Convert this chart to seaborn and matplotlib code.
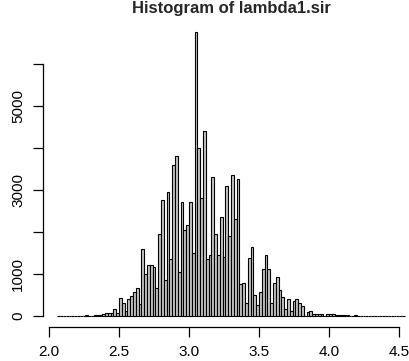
import numpy as np
import pandas as pd
import matplotlib
matplotlib.use("Agg")
import matplotlib.pyplot as plt
import seaborn as sns

title = "Histogram of lambda1.sir"
bin_start = 2.06
bin_width = 0.02
# counts per bin, starting at 2.06 with width 0.02
counts = [
    0, 0, 0, 0, 0, 0, 0, 0, 0, 0,          # 2.06 - 2.24
    20, 0, 0, 15, 20, 20, 50, 60, 60, 60,  # 2.26 - 2.44
    150, 60, 420, 300, 120, 400, 480, 560, 650, 270,  # 2.46 - 2.64
    1600, 1000, 1200, 1200, 1150, 650, 1950, 2750, 850, 2950,  # 2.66 - 2.84
    1350, 3600, 3800, 1030, 2700, 2050, 2150, 2700, 1500, 6750,  # 2.86 - 3.04
    4000, 2800, 4400, 1350, 1450, 3300, 1950, 1450, 2350, 1400,  # 3.06 - 3.24
    3100, 1900, 3350, 2300, 3250, 750, 780, 300, 1380, 1630,  # 3.26 - 3.44
    500, 250, 570, 1100, 1450, 1110, 300, 790, 920, 600,  # 3.46 - 3.64
    450, 150, 400, 100, 350, 400, 300, 240, 0, 80,  # 3.66 - 3.84
    100, 30, 30, 30, 30, 0, 50, 50, 30, 20,  # 3.86 - 4.04
    20, 20, 20, 20, 0, 0, 20, 0, 0, 0,  # 4.06 - 4.24
    0, 0, 0, 0, 0, 0, 0, 0, 0, 0,  # 4.26 - 4.44
    0, 0, 0, 0,  # 4.46 - 4.52
]
x_ticks = [2.0, 2.5, 3.0, 3.5, 4.0, 4.5]
y_ticks = [0, 1000, 2000, 3000, 4000, 5000, 6000]
y_labels = ["0", "1000", "", "3000", "", "5000", ""]

n = len(counts)
edges = [round(bin_start + bin_width * i, 4) for i in range(n + 1)]
centers = [(edges[i] + edges[i + 1]) / 2 for i in range(n)]
df = pd.DataFrame({"value": centers, "count": counts})

sns.set_style("white")
plt.rcParams["font.family"] = ["Liberation Sans", "DejaVu Sans"]

fig = plt.figure(figsize=(4.10, 3.61), dpi=100)
W, H = 410, 361
left, right, top, bottom = 43.5, 418.6, 21.0, 327.0
ax = fig.add_axes([left / W, (H - bottom) / H, (right - left) / W, (bottom - top) / H])

sns.histplot(data=df, x="value", weights="count", bins=edges, ax=ax, color="#c4c4c4",
             edgecolor="black", linewidth=0.8, alpha=1.0, stat="count")

rng = edges[-1] - edges[0]
ax.set_xlim(edges[0] - 0.04 * rng, edges[-1] + 0.04 * rng)
ymax = max(counts)
ax.set_ylim(-0.04 * ymax, 1.04 * ymax)

for s in ["top", "right"]:
    ax.spines[s].set_visible(False)
ax.spines["left"].set_bounds(0, 6000)
ax.spines["bottom"].set_bounds(2.0, 4.5)
for s in ["left", "bottom"]:
    ax.spines[s].set_linewidth(0.9)
    ax.spines[s].set_color("black")

ax.set_xticks(x_ticks)
ax.set_xticklabels([f"{t:.1f}" for t in x_ticks])
ax.set_yticks(y_ticks)
ax.set_yticklabels(y_labels, rotation=90, va="center")
ax.tick_params(axis="both", direction="out", length=7.2, width=0.9, color="black",
               labelsize=11, labelcolor="black", left=True, bottom=True)
ax.tick_params(axis="x", pad=6)
ax.tick_params(axis="y", pad=6)
ax.set_xlabel("")
ax.set_ylabel("")
ax.set_title(title, fontsize=12, fontweight="bold", pad=6)

fig.savefig("out.png", dpi=100)
